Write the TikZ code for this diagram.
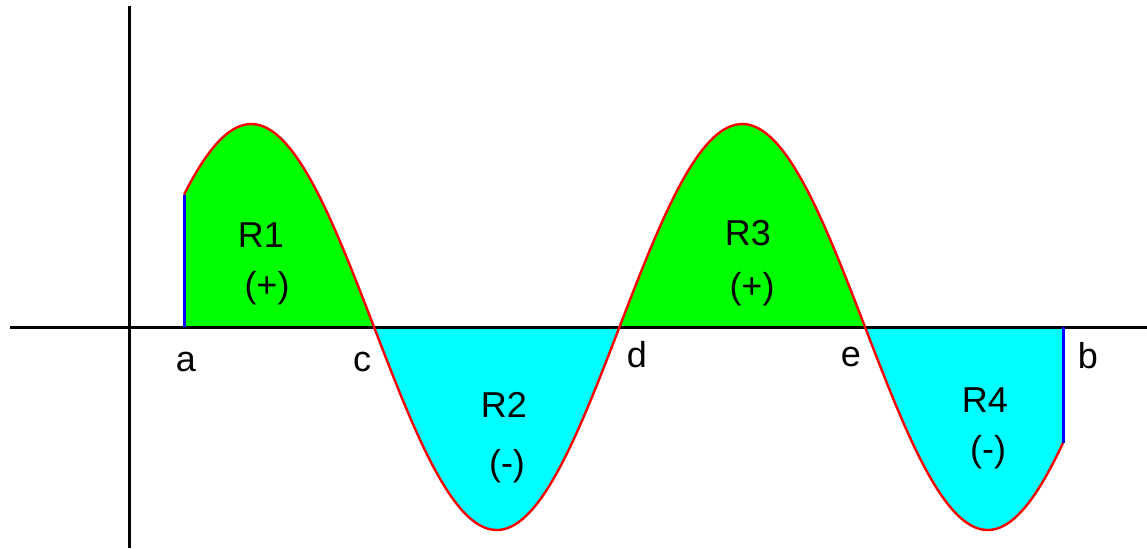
\documentclass[tikz,border=0pt]{standalone}
\usepackage{fontspec}
\setmainfont{Liberation Sans}
\definecolor{posfill}{RGB}{0,255,0}
\definecolor{negfill}{RGB}{0,255,255}

\begin{document}
\begin{tikzpicture}[x=0.5pt, y=-0.5pt,
    declare function={f(\t)=327+203*sin(0.733198*(\t-374));},
    lbl/.style={font=\fontsize{18}{21}\selectfont, inner sep=0pt}]

\useasboundingbox (0,0) rectangle (1147,548);

% --- Points on the axis ---
\coordinate (a) at (184,327);
\coordinate (c) at (374,327);
\coordinate (d) at (619.5,327);
\coordinate (e) at (865,327);
\coordinate (b) at (1063,327);
\coordinate (atop) at (184,{f(184)});
\coordinate (bbot) at (1063,{f(1063)});

% --- Regions between curve and axis FIRST ---
\fill[posfill] (a) -- plot[domain=184:374, samples=60] (\x,{f(\x)}) -- (c) -- cycle;
\fill[negfill] (c) -- plot[domain=374:619.5, samples=60] (\x,{f(\x)}) -- (d) -- cycle;
\fill[posfill] (d) -- plot[domain=619.5:865, samples=60] (\x,{f(\x)}) -- (e) -- cycle;
\fill[negfill] (e) -- plot[domain=865:1063, samples=60] (\x,{f(\x)}) -- (b) -- cycle;

% --- Axes ---
\draw[line width=1.5pt] (10,327) -- (1147,327); % Horizontal axis
\draw[line width=1.5pt] (129,6) -- (129,548); % Vertical axis

% --- Curve and end lines LAST ---
\draw[red, line width=1.2pt] plot[domain=184:1063, samples=250] (\x,{f(\x)});
\draw[blue, line width=1.5pt] (a) -- (atop);
\draw[blue, line width=1.5pt] (b) -- (bbot);

% --- Labels ---
\node[lbl] (la) at (186,362) {a};
\node[lbl] (lc) at (362,362) {c};
\node[lbl] (ld) at (637,355) {d};
\node[lbl] (le) at (851,357) {e};
\node[lbl] (lb) at (1088,356) {b};

\node[lbl] (r1) at (261,235) {R1};
\node[lbl] (s1) at (267,288) {(+)};
\node[lbl] (r2) at (504,405) {R2};
\node[lbl] (s2) at (507,466) {(-)};
\node[lbl] (r3) at (748,233) {R3};
\node[lbl] (s3) at (752,289) {(+)};
\node[lbl] (r4) at (985,400) {R4};
\node[lbl] (s4) at (988,452) {(-)};

\end{tikzpicture}
\end{document}
